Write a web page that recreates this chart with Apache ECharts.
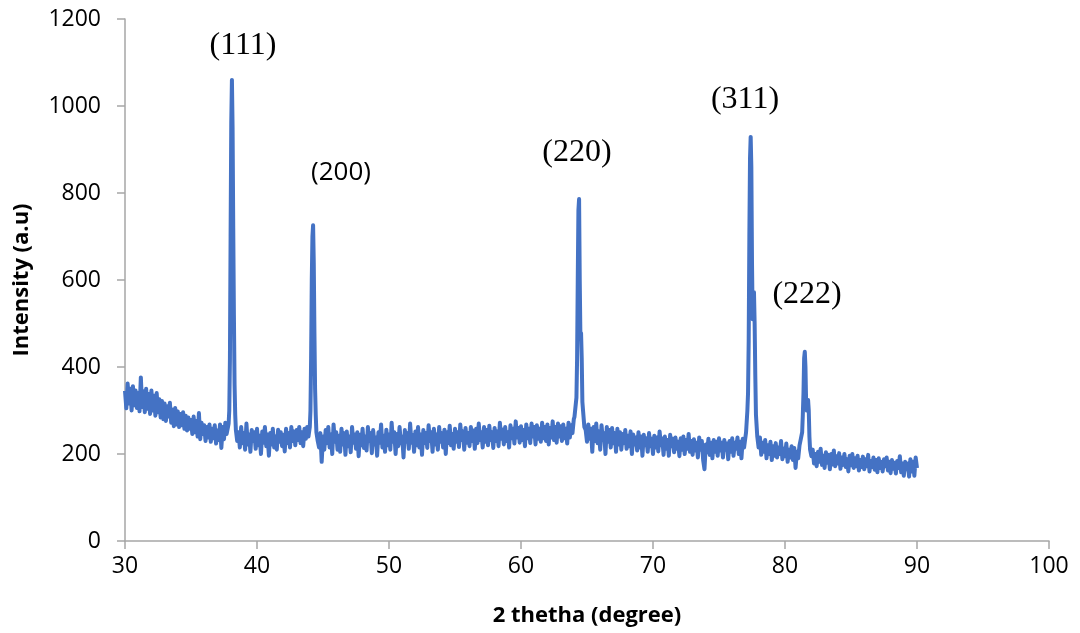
<!DOCTYPE html>
<html>
<head>
<meta charset="utf-8">
<script src="https://cdn.jsdelivr.net/npm/echarts@6/dist/echarts.min.js"></script>
<style>
  html, body { margin: 0; padding: 0; background: #fff; }
  #chart { width: 1080px; height: 633px; }
</style>
</head>
<body>
<div id="chart"></div>
<script>
// background sections, sampled every 0.1 degree from their start angle
var bgStep = 0.1;
var bg1Start = 30.0;
var bg1 = [345, 305, 362, 316, 350, 300, 356, 312, 346, 306, 340, 298, 376, 308, 344, 296, 350, 304, 338, 292,
  346, 300, 334, 288, 340, 296, 326, 284, 322, 280, 316, 276, 310, 286, 318, 272, 302, 264, 306, 268,
  298, 262, 292, 266, 296, 258, 288, 254, 284, 258, 278, 246, 286, 250, 276, 240, 294, 234, 272, 246,
  266, 230, 262, 238, 268, 228, 258, 236, 266, 224, 254, 232, 268, 214, 262, 234, 272, 246];
var bg2Start = 38.6;
var bg2 = [250, 215, 262, 225, 248, 210, 270, 222, 245, 205, 255, 230, 250, 212, 258, 220, 242, 200, 252, 226,
  262, 218, 245, 196, 248, 222, 258, 215, 240, 210, 256, 228, 250, 218, 244, 206, 258, 225, 248, 215,
  262, 230, 252, 220, 255, 232, 262, 225, 250, 218, 258, 235, 262, 240];
var bg3Start = 44.7;
var bg3 = [215, 248, 182, 240, 210, 255, 225, 262, 215, 245, 200, 268, 228, 250, 210, 242, 205, 258, 222, 248,
  198, 252, 218, 240, 204, 262, 226, 245, 212, 250, 195, 244, 220, 258, 214, 240, 208, 262, 230, 248,
  202, 255, 222, 238, 196, 250, 226, 268, 215, 242, 205, 256, 220, 245, 210, 272, 228, 250, 200, 246,
  218, 262, 225, 240, 192, 255, 228, 248, 212, 270, 226, 244, 205, 252, 220, 262, 215, 245, 198, 255,
  225, 248, 214, 266, 230, 250, 205, 258, 222, 245, 210, 262, 228, 248, 215, 256, 200, 250, 225, 265,
  220, 246, 212, 258, 228, 250, 216, 268, 232, 252, 210, 260, 226, 248, 218, 262, 230, 254, 212, 258,
  225, 270, 232, 250, 215, 262, 228, 255, 220, 265, 232, 250, 214, 260, 230, 252, 218, 272, 235, 256,
  222, 262, 230, 250, 215, 266, 236, 258, 224, 275, 238, 260, 226, 264, 232, 255, 218, 268, 236, 258,
  225, 270, 240, 262, 222, 266, 235, 258, 228, 272, 236, 262, 230, 268, 222, 260, 238, 275, 232, 262,
  226, 270, 240, 264, 230, 268, 236, 258, 224, 272, 238, 266, 248, 280];
var bg4Start = 64.9;
var bg4 = [255, 228, 268, 235, 258, 205, 262, 230, 270, 225, 252, 210, 266, 232, 248, 200, 262, 228, 255, 215,
  260, 225, 248, 205, 258, 222, 250, 210, 246, 225, 255, 212, 242, 218, 252, 200, 245, 222, 238, 208,
  250, 215, 240, 196, 244, 220, 236, 205, 248, 218, 235, 200, 242, 215, 238, 206, 252, 220, 236, 198,
  240, 212, 232, 196, 244, 218, 235, 204, 238, 212, 228, 195, 236, 210, 240, 200, 232, 212, 246, 205,
  230, 198, 234, 208, 226, 192, 238, 210, 230, 186, 165, 222, 204, 235, 198, 226, 190, 232, 205, 228,
  196, 236, 208, 226, 192, 232, 210, 224, 188, 230, 205, 236, 196, 226, 212, 238, 200, 228, 190, 235,
  215];
var bg5Start = 78.0;
var bg5 = [215, 238, 198, 226, 205, 232, 190, 220, 200, 228, 186, 218, 196, 225, 192, 215, 200, 230, 188, 212,
  195, 224, 182, 210, 192, 218, 186, 214, 168, 205, 190, 220, 235];
var bg6Start = 82.1;
var bg6 = [210, 178, 200, 172, 205, 182, 212, 175, 196, 168, 204, 180, 198, 165, 200, 176, 208, 172, 195, 178,
  202, 166, 192, 175, 200, 170, 188, 160, 196, 174, 200, 168, 190, 172, 196, 162, 186, 170, 194, 165,
  188, 172, 198, 160, 184, 170, 192, 164, 186, 158, 190, 168, 182, 160, 188, 172, 192, 162, 182, 156,
  186, 166, 180, 155, 184, 168, 195, 158, 178, 150, 182, 165, 178, 148, 188, 160, 182, 150, 192, 168];

// diffraction peaks
var p111Theta = [37.8, 37.85, 37.9, 37.95, 38.0, 38.05, 38.1, 38.15, 38.2, 38.25, 38.3, 38.35, 38.4, 38.5];
var p111Int = [262, 270, 300, 420, 700, 960, 1060, 950, 720, 520, 360, 290, 255, 230];
var p200Theta = [44.0, 44.05, 44.1, 44.15, 44.2, 44.25, 44.3, 44.35, 44.4, 44.45, 44.5, 44.6];
var p200Int = [262, 300, 420, 600, 700, 726, 640, 480, 350, 290, 250, 230];
var p220Theta = [64.05, 64.1, 64.2, 64.25, 64.3, 64.35, 64.4, 64.45, 64.5, 64.55, 64.6, 64.65, 64.7, 64.8];
var p220Int = [285, 300, 330, 420, 600, 760, 786, 600, 470, 478, 420, 320, 300, 262];
var p311Theta = [77.05, 77.15, 77.2, 77.25, 77.3, 77.35, 77.4, 77.45, 77.5, 77.55, 77.6, 77.65, 77.7, 77.75, 77.8, 77.9];
var p311Int = [250, 300, 340, 460, 700, 880, 929, 860, 640, 510, 560, 572, 500, 380, 290, 240];
var p222Theta = [81.3, 81.35, 81.4, 81.45, 81.5, 81.55, 81.6, 81.65, 81.7, 81.75, 81.8, 81.85, 81.9, 82.0];
var p222Int = [250, 290, 340, 420, 435, 400, 320, 300, 310, 324, 300, 240, 210, 195];

// peak labels (hkl) and where their text sits, in data units
var hklNames = ['(111)', '(200)', '(220)', '(311)', '(222)'];
var hklTheta = [38.94, 46.36, 64.24, 76.97, 81.67];
var hklInt = [1138, 846, 892, 1014, 566];

var xTicks = { min: 30, max: 100, interval: 10 };
var yTicks = { min: 0, max: 1200, interval: 200 };

var points = [];
function addBg(start, vals) {
  for (var i = 0; i < vals.length; i++) {
    points.push([Math.round((start + i * bgStep) * 100) / 100, vals[i]]);
  }
}
function addPeak(th, vals) {
  for (var i = 0; i < th.length; i++) points.push([th[i], vals[i]]);
}
addBg(bg1Start, bg1);
addBg(bg2Start, bg2);
addBg(bg3Start, bg3);
addBg(bg4Start, bg4);
addBg(bg5Start, bg5);
addBg(bg6Start, bg6);
addPeak(p111Theta, p111Int);
addPeak(p200Theta, p200Int);
addPeak(p220Theta, p220Int);
addPeak(p311Theta, p311Int);
addPeak(p222Theta, p222Int);
points.sort(function (a, b) { return a[0] - b[0]; });

var serifLabel = { fontFamily: 'Liberation Serif', fontSize: 32, color: '#000' };
var sansLabel = { fontFamily: 'Open Sans', fontSize: 26, color: '#000' };
var marks = hklNames.map(function (n, i) {
  var st = n === '(200)' ? sansLabel : serifLabel;
  return {
    coord: [hklTheta[i], hklInt[i]],
    label: Object.assign({ show: true, formatter: n, position: 'inside' }, st)
  };
});

var axisGrey = '#a6a6a6';
var titleStyle = { fontFamily: 'Open Sans', fontWeight: 'bold', fontSize: 22, color: '#000' };
var tickStyle = { fontFamily: 'Open Sans', fontSize: 23, color: '#000' };
var chart = echarts.init(document.getElementById('chart'));
chart.setOption({
  animation: false,
  grid: { left: 125, right: 31, top: 19, bottom: 92 },
  xAxis: {
    type: 'value',
    min: xTicks.min, max: xTicks.max, interval: xTicks.interval,
    name: '2 thetha (degree)',
    nameLocation: 'middle',
    nameGap: 64,
    nameTextStyle: titleStyle,
    axisLine: { show: true, lineStyle: { color: axisGrey, width: 1.5 } },
    axisTick: { show: true, length: 8, lineStyle: { color: axisGrey, width: 1.5 } },
    axisLabel: Object.assign({ margin: 14 }, tickStyle),
    splitLine: { show: false }
  },
  yAxis: {
    type: 'value',
    min: yTicks.min, max: yTicks.max, interval: yTicks.interval,
    name: 'Intensity (a.u)',
    nameLocation: 'middle',
    nameGap: 92,
    nameTextStyle: titleStyle,
    axisLine: { show: true, lineStyle: { color: axisGrey, width: 1.5 } },
    axisTick: { show: true, length: 8, lineStyle: { color: axisGrey, width: 1.5 } },
    axisLabel: Object.assign({ margin: 24, formatter: function (v) { return String(v); } }, tickStyle),
    splitLine: { show: false }
  },
  series: [{
    type: 'line',
    data: points,
    showSymbol: false,
    symbol: 'none',
    sampling: null,
    lineStyle: { color: '#4472c4', width: 4, join: 'round' },
    itemStyle: { color: '#4472c4' },
    markPoint: {
      silent: true,
      symbol: 'circle',
      symbolSize: 1,
      itemStyle: { color: 'rgba(0,0,0,0)' },
      data: marks
    }
  }]
});
</script>
</body>
</html>
